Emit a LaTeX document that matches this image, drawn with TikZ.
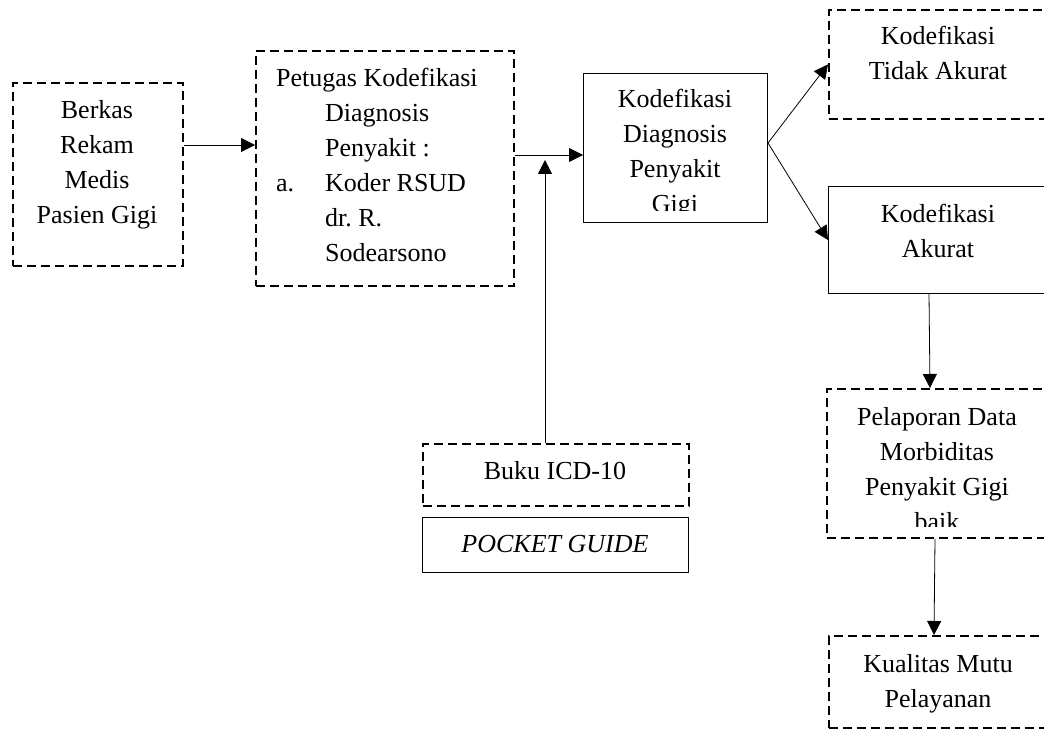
\documentclass[tikz,border=0pt]{standalone}
\usepackage{fontspec}
\setmainfont{Liberation Serif}
\usetikzlibrary{calc, arrows.meta}

\tikzset{
    dashBox/.style={draw, dashed, dash pattern=on 9pt off 5pt, line width=1.8pt, inner sep=0pt, anchor=north west},
    solidBox/.style={draw, line width=1pt, inner sep=0pt, anchor=north west},
    boxText/.style={align=center, inner sep=0pt, anchor=north, font=\fontsize{26}{35}\selectfont},
    flowArrow/.style={-{Triangle[length=14pt,width=14pt]}, line width=0.8pt}
}

\begin{document}
\begin{tikzpicture}[x=1pt, y=-1pt]
    % Page frame
    \useasboundingbox (0,0) rectangle (1044,730);
    \clip (0,0) rectangle (1044,730);

    % Draw the boxes
    \node[dashBox, minimum width=170pt, minimum height=183pt] (berkas) at (12,82) {};
    \node[dashBox, minimum width=258pt, minimum height=235pt] (petugas) at (255,50) {};
    \node[solidBox, minimum width=184pt, minimum height=149pt] (kodefikasi) at (583,73) {};
    \node[dashBox, minimum width=220pt, minimum height=109pt] (tidakAkurat) at (828,9) {};
    \node[solidBox, minimum width=220pt, minimum height=107pt] (akurat) at (828,186) {};
    \node[dashBox, minimum width=222pt, minimum height=149pt] (pelaporan) at (826,388) {};
    \node[dashBox, minimum width=220pt, minimum height=92pt] (kualitas) at (828,635) {};
    \node[dashBox, minimum width=266pt, minimum height=62pt] (buku) at (422,443) {};
    \node[solidBox, minimum width=266pt, minimum height=55pt] (pocket) at (422,517) {};

    % Texts of the boxes
    \node[boxText] (berkasText) at (97,100) {Berkas\\Rekam\\Medis\\Pasien Gigi};
    \node[boxText, anchor=north west, align=left] (petugasText) at (276,68)
        {Petugas Kodefikasi\\\hspace*{49pt}Diagnosis\\\hspace*{49pt}Penyakit :\\
         \makebox[49pt][l]{a.}Koder RSUD\\\hspace*{49pt}dr.\ R.\\\hspace*{49pt}Sodearsono};
    \begin{scope}
        \clip (583,73) rectangle (767,211);
        \node[boxText] (kodefikasiText) at (675,89) {Kodefikasi\\Diagnosis\\Penyakit\\Gigi};
    \end{scope}
    \node[boxText] (tidakAkuratText) at (938,26) {Kodefikasi\\Tidak Akurat};
    \node[boxText] (akuratText) at (938,204) {Kodefikasi\\Akurat};
    \begin{scope}
        \clip (826,388) rectangle (1048,526);
        \node[boxText] (pelaporanText) at (937,407) {Pelaporan Data\\Morbiditas\\Penyakit Gigi\\baik};
    \end{scope}
    \node[boxText] (kualitasText) at (938,654) {Kualitas Mutu\\Pelayanan};
    \node[boxText, anchor=base] (bukuText) at (555,479) {Buku ICD-10};
    \node[boxText, anchor=base] (pocketText) at (555,552) {\itshape POCKET GUIDE};

    % Draw the arrows
    \coordinate (joinPoint) at (545,160);
    \draw[flowArrow] (berkas.east |- 0,145) -- (petugas.west |- 0,145);
    \draw[flowArrow] (petugas.east |- 0,155) -- (kodefikasi.west |- 0,155);
    \draw[flowArrow] (buku.north -| 545,0) -- (joinPoint);
    \draw[flowArrow] (kodefikasi.east |- 0,143) -- (tidakAkurat.west);
    \draw[flowArrow] (kodefikasi.east |- 0,143) -- (akurat.west);
    \draw[flowArrow] (akurat.south -| 929,0) -- (pelaporan.north -| 930,0);
    \draw[flowArrow] (pelaporan.south -| 935,0) -- (kualitas.north -| 934,0);

\end{tikzpicture}
\end{document}
